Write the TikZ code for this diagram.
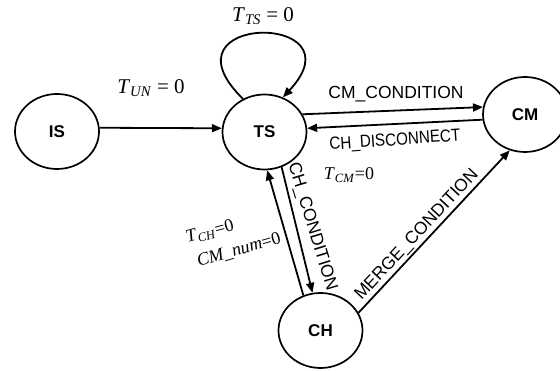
\documentclass[tikz,border=0pt]{standalone}
\usepackage{fontspec}
\setmainfont{Liberation Serif}
\setsansfont{Liberation Sans}
\usetikzlibrary{shapes.geometric,arrows.meta}
\begin{document}
\begin{tikzpicture}[x=1pt,y=-1pt,
  state/.style={draw,ellipse,line width=1.7pt,minimum width=84pt,minimum height=75pt,inner sep=0pt,font=\sffamily\bfseries\fontsize{17}{17}\selectfont},
  arr/.style={line width=1.8pt,-{Triangle[length=10pt,width=8pt]}},
  cond/.style={font=\sffamily\fontsize{17.5}{17.5}\selectfont,inner sep=0pt},
  eq/.style={font=\fontsize{21}{21}\selectfont,inner sep=0pt},
  eqs/.style={font=\fontsize{18}{18}\selectfont,inner sep=0pt}]
\path[use as bounding box,clip] (0,0) rectangle (560,371);

\node[state] (IS) at (57,131.5) {IS};
\node[state] (TS) at (264.5,132) {TS};
\node[state] (CM) at (525,114.5) {CM};
\node[state] (CH) at (320.5,330.5) {CH};

\draw[arr] (IS.5) -- (TS.175);
\draw[arr] (TS.25) -- (CM.170);
\draw[arr] (CM.187) -- (TS.5);
\draw[arr] (TS.-64) -- (CH.102);
\draw[arr] (CH.116) -- (TS.-86);
\draw[arr] (CH.25) -- (CM.-113);
\draw[arr] (TS.123) .. controls +(-88,-86) and +(80,-86) .. (TS.62);

\node[eq] (lTS) at (263,16) {\textit{T}\textsubscript{\textit{TS}} = 0};
\node[eq] (lUN) at (151,88) {\textit{T}\textsubscript{\textit{UN}} = 0};
\node[cond] (lCMC) at (396,94) {CM\_CONDITION};
\node[cond,rotate=4] (lCHD) at (395,141) {\scalebox{0.87}[1]{CH\_DISCONNECT}};
\node[eqs] (lCM) at (349,175) {\textit{T}\textsubscript{\textit{CM}}=0};
\node[eqs,rotate=15] (lCH) at (210,232) {\textit{T}\textsubscript{\textit{CH}}=0};
\node[eqs,rotate=16] (lnum) at (239,250) {\textit{CM\_num}=0};
\node[cond,rotate=-73] (lCHC) at (312,227) {CH\_CONDITION};
\node[cond,rotate=47] (lMC) at (417,235) {MERGE\_CONDITION};
\end{tikzpicture}
\end{document}
